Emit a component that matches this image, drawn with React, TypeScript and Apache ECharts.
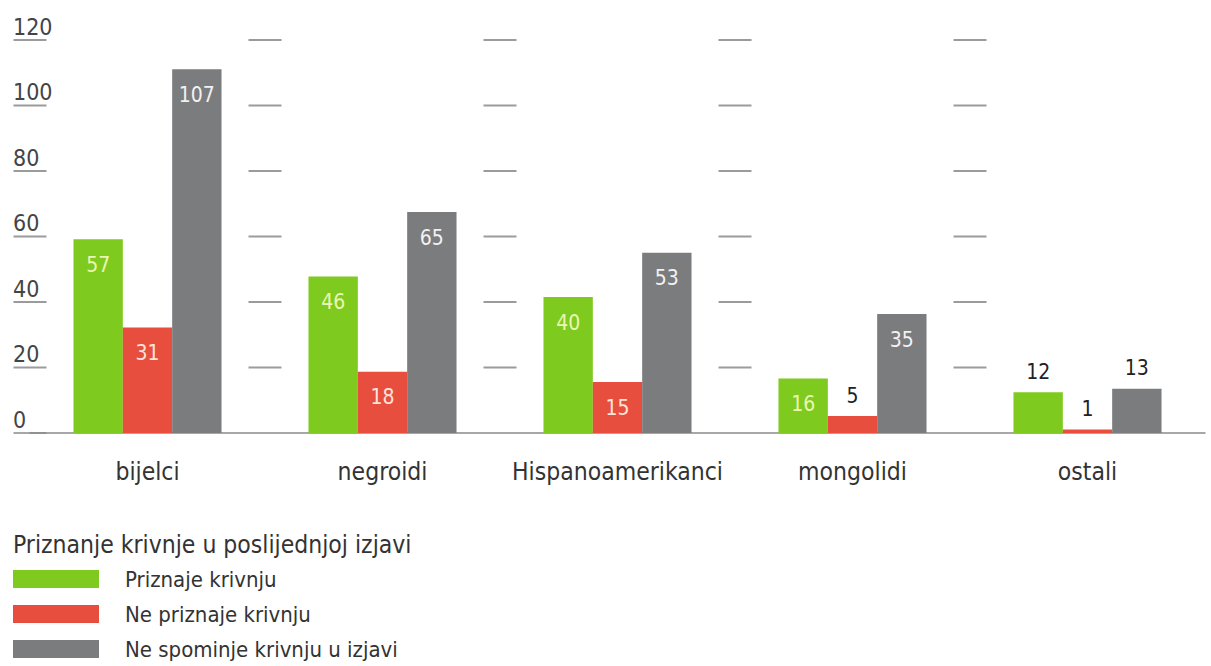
import React, { useEffect, useRef } from "react";
import * as echarts from "echarts";

const categories = ["bijelci", "negroidi", "Hispanoamerikanci", "mongolidi", "ostali"];
const seriesNames = ["Priznaje krivnju", "Ne priznaje krivnju", "Ne spominje krivnju u izjavi"];
const priznaje = [57, 46, 40, 16, 12];
const nePriznaje = [31, 18, 15, 5, 1];
const neSpominje = [107, 65, 53, 35, 13];
const yTicks = [0, 20, 40, 60, 80, 100, 120];
const legendTitle = "Priznanje krivnje u poslijednjoj izjavi";

const FONT = "'Liberation Sans Narrow', 'DejaVu Sans Condensed', 'Roboto Condensed', Roboto, sans-serif";
const colors = ["#7fca1e", "#e84e3e", "#7b7c7e"];
const insideLabelColors = ["#eaf7b4", "#fde3da", "#f2f2f2"];

function buildData(values: number[]) {
  return values.map((v) =>
    v < 14
      ? { value: v, label: { position: "top", distance: 10, color: "#222" } }
      : { value: v }
  );
}

export default function App() {
  const ref = useRef<HTMLDivElement>(null);
  useEffect(() => {
    if (!ref.current) return;
    const chart = echarts.init(ref.current, null, { renderer: "svg" });
    const dashData: number[][] = [];
    categories.forEach((_, i) => {
      yTicks.forEach((t) => {
        if (t > 0 || i === 0) dashData.push([i, t]);
      });
    });
    const values = [priznaje, nePriznaje, neSpominje];
    chart.setOption({
      animation: false,
      textStyle: { fontFamily: FONT },
      title: {
        text: legendTitle,
        left: 13,
        top: 532,
        padding: 0,
        textStyle: { fontSize: 24.5, fontWeight: "normal", color: "#333", fontFamily: FONT },
      },
      legend: {
        data: seriesNames,
        orient: "vertical",
        left: 13,
        top: 568,
        padding: 0,
        height: 120,
        itemWidth: 86,
        itemHeight: 18,
        itemGap: 13,
        icon: "rect",
        selectedMode: false,
        textStyle: { fontSize: 22, color: "#333", fontFamily: FONT, padding: [0, 0, 0, 21] },
      },
      grid: { left: 30, right: 6, top: 40, bottom: 233, containLabel: false },
      xAxis: {
        type: "category",
        data: categories,
        axisTick: { show: false },
        axisLine: { lineStyle: { color: "#8a8a8a", width: 1.5 } },
        axisLabel: { interval: 0, fontSize: 24.5, color: "#333", margin: 26, fontFamily: FONT },
      },
      yAxis: [
        {
          type: "value",
          min: 0,
          max: 120,
          interval: 20,
          axisLine: { show: false },
          axisTick: { show: false },
          splitLine: { show: false },
          axisLabel: {
            align: "left",
            verticalAlign: "bottom",
            margin: 17,
            padding: [0, 0, 2, 0],
            fontSize: 23,
            color: "#444",
            fontFamily: FONT,
          },
        },
        { type: "value", min: 0, max: 115.6, show: false },
      ],
      series: [
        {
          type: "custom",
          silent: true,
          yAxisIndex: 0,
          z: 1,
          data: dashData,
          renderItem: (params: any, api: any) => {
            const i = api.value(0);
            const t = api.value(1);
            const c = api.coord([i, t]);
            const w = api.size([1, 0])[0];
            const x = c[0] - w / 2;
            return {
              type: "line",
              shape: { x1: x - 16.5, y1: c[1], x2: x + 16.5, y2: c[1] },
              style: { stroke: t === 0 ? "#8a8a8a" : "#9b9b9b", lineWidth: t === 0 ? 1.5 : 2 },
            };
          },
        },
        ...seriesNames.map((name, k) => ({
          name,
          type: "bar",
          yAxisIndex: 1,
          barGap: "0%",
          barCategoryGap: "37%",
          z: 2,
          itemStyle: { color: colors[k] },
          label: {
            show: true,
            position: "insideTop",
            distance: 15,
            fontSize: 21,
            color: insideLabelColors[k],
            fontFamily: FONT,
          },
          data: buildData(values[k]),
        })),
      ],
    });
    return () => chart.dispose();
  }, []);
  return (
    <div
      ref={ref}
      style={{ position: "fixed", left: 0, top: 0, width: 1211, height: 666, background: "#fff" }}
    />
  );
}
